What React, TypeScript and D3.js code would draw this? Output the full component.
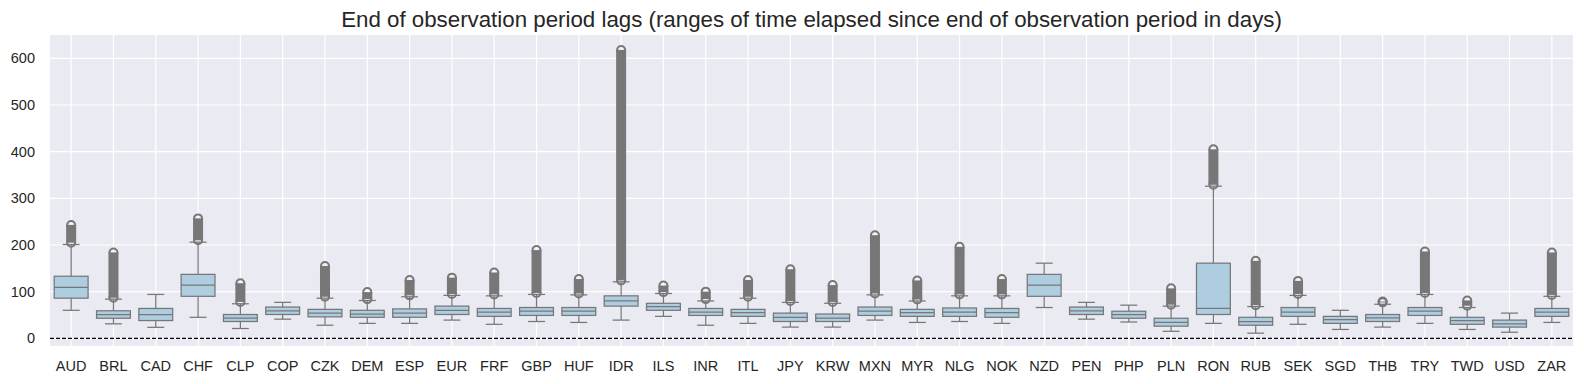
import * as d3 from "d3";

const categories = [
  "AUD", "BRL", "CAD", "CHF", "CLP", "COP", "CZK", "DEM", "ESP", "EUR", "FRF", "GBP",
  "HUF", "IDR", "ILS", "INR", "ITL", "JPY", "KRW", "MXN", "MYR", "NLG", "NOK", "NZD",
  "PEN", "PHP", "PLN", "RON", "RUB", "SEK", "SGD", "THB", "TRY", "TWD", "USD", "ZAR",
];

// box statistics (days)
const whiskerLow = [60, 31, 23.5, 45, 21, 41, 28, 32, 32, 39, 30, 36, 34, 39, 47, 28, 32, 24, 24, 39, 34, 36, 32, 66, 41, 35, 15, 32, 11, 30, 19, 24, 32, 19, 13, 34];
const q1 = [86, 43, 38, 90, 36, 51, 46, 45, 45, 51, 47, 49, 49, 69, 60, 49, 47, 36, 36, 49, 47, 47, 45, 90, 51, 43, 26, 51, 28, 47, 32, 36, 49, 30, 24, 47];
const median = [109, 51, 51, 114, 43.5, 59, 54, 52, 54, 60, 56, 58, 58, 80, 68, 56, 55, 45, 43.5, 58.5, 55, 56, 55, 114, 59, 51, 34, 64, 36, 56, 40, 44, 58, 38, 31, 56];
const q3 = [133, 59, 64, 137, 51, 67, 62, 60, 63, 69, 64, 66, 66, 91, 75, 64, 62, 54, 52, 67, 62, 65, 64, 137, 67, 58, 43, 161, 45, 66, 47, 51, 66, 45, 39, 64];
const whiskerHigh = [201, 84, 94, 206, 74, 77, 86, 81, 89, 92, 91, 94, 93, 121, 96, 80, 86, 77, 75, 93, 80, 91, 91, 161, 77, 71, 69, 326, 68, 92, 60, 73, 94, 66, 54, 90];
// range of outliers (null = none)
const flierLow = [205, 87, null, 210, 78, null, 89, 84, 92, 95, 94, 97, 96, 124, 99, 84, 89, 80, 78, 96, 83, 94, 94, null, null, null, 72, 329, 71, 95, null, 77, 97, 70, null, 93];
const flierHigh = [243, 184, null, 257, 118, null, 155, 99, 125, 130, 141, 189, 127, 618, 113, 100, 125, 148, 114, 221, 124, 196, 127, null, null, null, 107, 405, 166, 123, null, 79, 186, 81, null, 184];

const yTicks = [0, 100, 200, 300, 400, 500, 600];

const W = 1584;
const H = 384;
const M = { left: 50, right: 11, top: 35, bottom: 38 };
const FONT = "'Liberation Sans', Arial, sans-serif";
const LINE = "#777777";
const FILL = "#aecde0";

export default function App() {
  const x = d3.scaleBand().domain(categories).range([M.left, W - M.right]).padding(0);
  const y = d3.scaleLinear().domain([-16.5, 650]).range([H - M.bottom, M.top]);
  const bw = x.bandwidth() * 0.8;
  const r = 4;

  return (
    <svg width={W} height={H} style={{ position: "absolute", left: 0, top: 0, background: "#fff" }} fontFamily={FONT}>
      <rect x={M.left} y={M.top} width={W - M.left - M.right} height={H - M.top - M.bottom} fill="#eaeaf2" />
      {yTicks.map((t) => (
        <g key={t}>
          <line x1={M.left} x2={W - M.right} y1={y(t)} y2={y(t)} stroke="#fff" strokeWidth={1.2} />
          <text x={M.left - 15} y={y(t)} dy="0.35em" textAnchor="end" fontSize={14.5} fill="#262626">{t}</text>
        </g>
      ))}
      {categories.map((c) => {
        const cx = x(c)! + x.bandwidth() / 2;
        return (
          <g key={c}>
            <line x1={cx} x2={cx} y1={M.top} y2={H - M.bottom} stroke="#fff" strokeWidth={1.2} />
            <text x={cx} y={H - 13} textAnchor="middle" fontSize={14.5} fill="#262626">{c}</text>
          </g>
        );
      })}
      <line x1={M.left} x2={W - M.right} y1={y(0)} y2={y(0)} stroke="#000" strokeWidth={1.2} strokeDasharray="4,2" />
      {categories.map((c, i) => {
        const cx = x(c)! + x.bandwidth() / 2;
        const lo = flierLow[i];
        const hi = flierHigh[i];
        return (
          <g key={c}>
            <line x1={cx} x2={cx} y1={y(whiskerLow[i])} y2={y(q1[i])} stroke={LINE} strokeWidth={1.25} />
            <line x1={cx} x2={cx} y1={y(q3[i])} y2={y(whiskerHigh[i])} stroke={LINE} strokeWidth={1.25} />
            <line x1={cx - bw / 4} x2={cx + bw / 4} y1={y(whiskerLow[i])} y2={y(whiskerLow[i])} stroke={LINE} strokeWidth={1.25} />
            <line x1={cx - bw / 4} x2={cx + bw / 4} y1={y(whiskerHigh[i])} y2={y(whiskerHigh[i])} stroke={LINE} strokeWidth={1.25} />
            <rect x={cx - bw / 2} y={y(q3[i])} width={bw} height={y(q1[i]) - y(q3[i])} fill={FILL} stroke={LINE} strokeWidth={1.25} />
            <line x1={cx - bw / 2} x2={cx + bw / 2} y1={y(median[i])} y2={y(median[i])} stroke={LINE} strokeWidth={1.25} />
            {lo != null && hi != null && (
              <g>
                {y(lo) - y(hi) > 0 && (
                  <rect x={cx - r - 1} y={y(hi)} width={2 * r + 2} height={y(lo) - y(hi)} fill={LINE} />
                )}
                <circle cx={cx} cy={y(lo)} r={r} fill="none" stroke={LINE} strokeWidth={2} />
                <circle cx={cx} cy={y(hi)} r={r} fill="none" stroke={LINE} strokeWidth={2} />
              </g>
            )}
          </g>
        );
      })}
      <text x={(M.left + W - M.right) / 2} y={27} textAnchor="middle" fontSize={22.3} fill="#262626">
        End of observation period lags (ranges of time elapsed since end of observation period in days)
      </text>
    </svg>
  );
}
